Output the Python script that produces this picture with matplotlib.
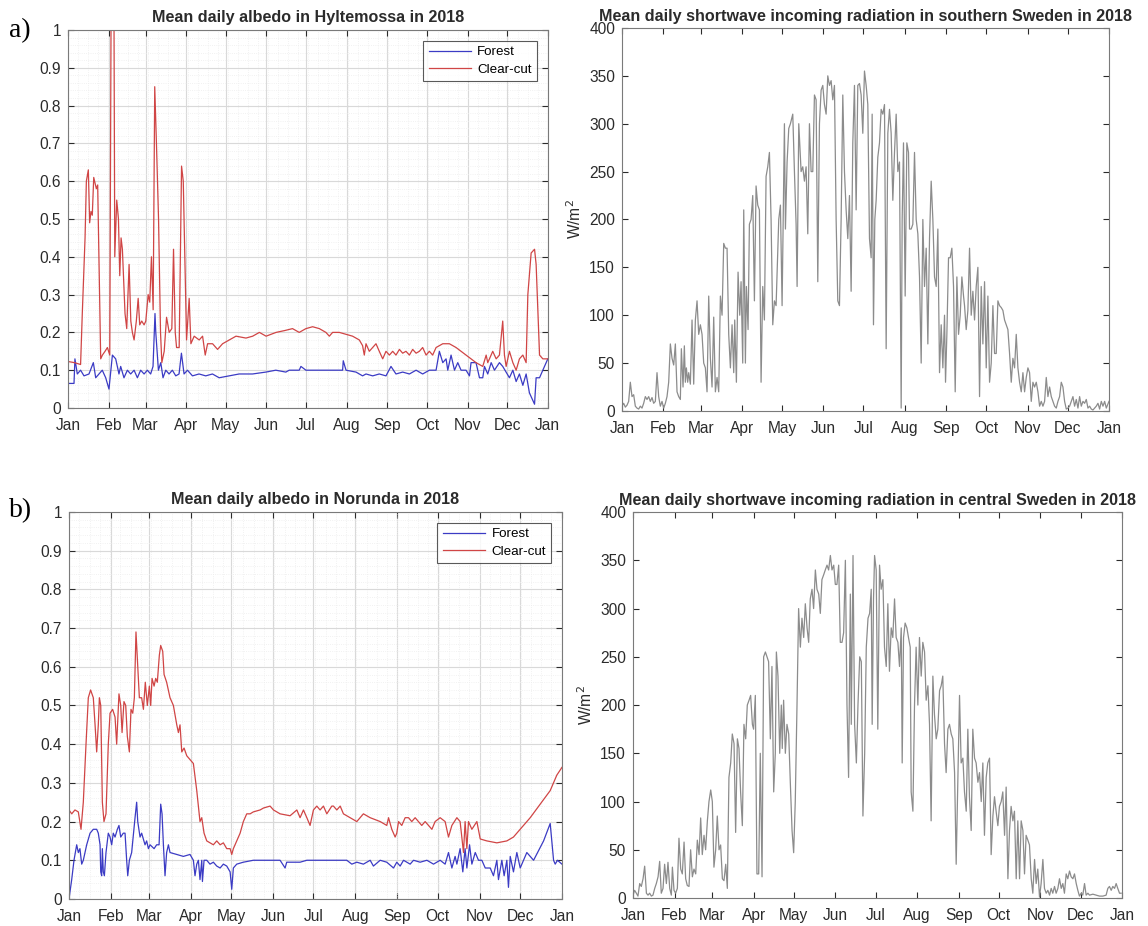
import matplotlib.pyplot as plt
from matplotlib.ticker import MultipleLocator, FixedLocator

plt.rcParams['font.family'] = ['Liberation Sans', 'DejaVu Sans']

# month starts (day of year) used as x ticks
month_days = [0, 31, 59, 90, 120, 151, 181, 212, 243, 273, 304, 334, 365]
month_labels = ['Jan', 'Feb', 'Mar', 'Apr', 'May', 'Jun', 'Jul', 'Aug',
                'Sep', 'Oct', 'Nov', 'Dec', 'Jan']

# ---- Hyltemossa albedo ----
hyl_cc_day = [0, 5, 9.6, 10.9, 13, 14, 15.5, 16.5, 17.5, 18.5, 19.6, 21.6, 22.6, 24.9, 26.2,
              28.2, 30, 31.8, 32.8, 35, 35.6, 37.1, 38.4, 39.4, 40.4, 41.4, 43.4, 44.7, 46.5,
              47.8, 49, 50.3, 52, 53.4, 54.6, 56.1, 57.9, 59.2, 61, 62.2, 63.5, 64.8, 66,
              67.3, 68.9, 70.4, 71.4, 73.2, 75, 77, 79, 80.3, 81.6, 82.6, 84.6, 86.4, 87.7,
              90.2, 92.2, 93.5, 96, 99.8, 102.4, 104.4, 106.2, 110, 113.8, 117.6, 122.7,
              127.8, 135.4, 140.5, 145.6, 150.7, 158.3, 165, 170.8, 175.9, 181, 186.1, 191.2,
              196.2, 198.8, 201.3, 206.4, 211.5, 216.5, 221.6, 224.1, 225.4, 226.7, 229.2,
              231.8, 234.3, 236.8, 239.4, 241.9, 244.5, 247, 249.5, 252.1, 254.6, 257.1,
              259.7, 262.2, 264.8, 267.3, 269.8, 272.4, 274.9, 277.4, 280, 285.1, 290.1,
              295.2, 302.8, 310.4, 315.5, 318.1, 319.3, 320.6, 323.1, 325.7, 328.2, 330.7,
              332, 333.3, 335.8, 338.4, 340.9, 343.4, 346, 348.5, 349.8, 352.3, 354.9, 356.1,
              358.7, 361.2, 365]
hyl_cc_val = [0.123, 0.12, 0.115, 0.25, 0.45, 0.6, 0.63, 0.49, 0.52, 0.51, 0.61, 0.58, 0.59,
              0.13, 0.14, 0.15, 0.16, 0.14, 1.05, 1.05, 0.4, 0.55, 0.5, 0.35, 0.45, 0.42, 0.25,
              0.21, 0.38, 0.23, 0.2, 0.18, 0.23, 0.29, 0.22, 0.23, 0.22, 0.23, 0.3, 0.28, 0.4,
              0.26, 0.85, 0.7, 0.5, 0.2, 0.12, 0.15, 0.24, 0.2, 0.21, 0.42, 0.2, 0.16, 0.16,
              0.64, 0.6, 0.18, 0.29, 0.17, 0.19, 0.18, 0.19, 0.14, 0.17, 0.17, 0.155, 0.17,
              0.18, 0.19, 0.185, 0.19, 0.2, 0.19, 0.2, 0.205, 0.21, 0.2, 0.21, 0.215, 0.21,
              0.2, 0.19, 0.2, 0.2, 0.195, 0.19, 0.18, 0.165, 0.14, 0.17, 0.15, 0.16, 0.17,
              0.15, 0.13, 0.15, 0.14, 0.15, 0.14, 0.155, 0.145, 0.15, 0.14, 0.155, 0.145,
              0.15, 0.16, 0.14, 0.15, 0.14, 0.16, 0.17, 0.17, 0.16, 0.14, 0.12, 0.11, 0.14,
              0.12, 0.13, 0.15, 0.13, 0.14, 0.23, 0.14, 0.11, 0.15, 0.12, 0.10, 0.13, 0.14,
              0.12, 0.3, 0.41, 0.42, 0.38, 0.14, 0.13, 0.13]

hyl_fo_day = [0, 4.6, 5.3, 7.1, 9.6, 12.2, 16, 19.3, 21.1, 23.6, 26.1, 28.7, 31.2, 33.8,
              36.3, 38.8, 40.1, 42.6, 45.2, 47.7, 50.3, 52.8, 55.3, 57.9, 60.4, 62.9, 64.7,
              66.2, 66.8, 68.8, 70.6, 72.3, 74.4, 76.9, 79.4, 82, 84.5, 86.3, 88.3, 90.9,
              94.7, 99.7, 104.8, 109.9, 115, 122.6, 130.2, 140.4, 150.5, 158.1, 165.7, 168.3,
              175.9, 177.2, 181, 186.1, 198.8, 208.9, 209.4, 211.5, 219.1, 224.1, 226.7,
              231.8, 236.8, 241.9, 245.7, 249.5, 254.6, 259.7, 264.8, 269.8, 274.9, 280,
              282.5, 285.1, 287.6, 288.9, 291.4, 294, 296.5, 299, 302.8, 305.4, 306.6, 310.4,
              313, 315.5, 316.8, 319.3, 321.9, 324.4, 328.2, 330.7, 335.8, 338.4, 340.9,
              343.4, 346, 348.5, 351, 353.6, 354.9, 356.1, 358.7, 361.2, 365]
hyl_fo_val = [0.065, 0.065, 0.13, 0.09, 0.1, 0.085, 0.09, 0.12, 0.08, 0.09, 0.1, 0.08, 0.05,
              0.14, 0.13, 0.09, 0.11, 0.08, 0.1, 0.09, 0.1, 0.08, 0.1, 0.09, 0.1, 0.09, 0.11,
              0.25, 0.2, 0.1, 0.12, 0.08, 0.1, 0.09, 0.1, 0.085, 0.09, 0.145, 0.09, 0.1,
              0.085, 0.09, 0.085, 0.09, 0.08, 0.085, 0.09, 0.09, 0.095, 0.1, 0.095, 0.1, 0.1,
              0.11, 0.1, 0.1, 0.1, 0.1, 0.125, 0.1, 0.095, 0.085, 0.09, 0.085, 0.09, 0.085,
              0.11, 0.09, 0.095, 0.09, 0.1, 0.09, 0.1, 0.1, 0.15, 0.12, 0.13, 0.1, 0.14, 0.1,
              0.12, 0.1, 0.1, 0.085, 0.12, 0.12, 0.08, 0.08, 0.11, 0.09, 0.12, 0.1, 0.12,
              0.11, 0.08, 0.1, 0.07, 0.09, 0.06, 0.09, 0.04, 0.02, 0.01, 0.08, 0.08, 0.1, 0.13]

# ---- Norunda albedo ----
nor_cc_day = [0, 2, 4.4, 6.9, 8.9, 10.6, 12.6, 14.3, 16, 18, 19.3, 20.5, 21.7, 22.5, 23.5,
              24.7, 25.9, 27.4, 29.1, 30.4, 32.3, 34.1, 35.3, 37, 38.3, 39.3, 40.7, 42, 43.2,
              44.7, 45.9, 47.2, 48.4, 49.6, 50.9, 52.1, 53.8, 55.1, 56.5, 58, 59.5, 60.5,
              61.5, 63, 64.2, 65.4, 66.9, 67.9, 69.4, 70.4, 72.3, 74.8, 77.3, 79.8, 81, 82.2,
              83.5, 85.2, 87.2, 89.6, 92.1, 94.6, 97, 98.3, 100, 102, 104.4, 106.9, 109.4,
              111.9, 114.3, 116.8, 119.3, 120.5, 121.7, 124.2, 126.7, 129.1, 131.6, 134.1,
              136.5, 141.5, 144, 148.9, 151.4, 156.3, 163.7, 168.7, 171.1, 173.6, 176.1,
              178.5, 181, 183.5, 185.9, 188.4, 190.9, 194.6, 195.8, 198.3, 200.8, 203.2,
              208.2, 213.1, 218, 223, 230.4, 235.3, 236.6, 239, 241.5, 242.7, 244, 246.4,
              248.9, 251.4, 253.8, 256.3, 258.8, 261.2, 263.7, 266.2, 268.7, 271.1, 274.8,
              278.5, 281, 283.5, 287.2, 289.6, 292.1, 293.3, 294.6, 295.8, 298.3, 302, 304.5,
              309.4, 316.8, 324.2, 329.1, 334.1, 341.5, 348.9, 356.3, 361.2, 365]
nor_cc_val = [0.23, 0.22, 0.23, 0.225, 0.18, 0.25, 0.4, 0.52, 0.54, 0.52, 0.45, 0.38, 0.45,
              0.52, 0.5, 0.25, 0.2, 0.22, 0.4, 0.48, 0.49, 0.47, 0.4, 0.53, 0.5, 0.43, 0.51,
              0.5, 0.42, 0.38, 0.49, 0.48, 0.52, 0.69, 0.6, 0.52, 0.52, 0.49, 0.56, 0.5, 0.55,
              0.5, 0.57, 0.55, 0.57, 0.56, 0.63, 0.655, 0.64, 0.58, 0.56, 0.52, 0.5, 0.45,
              0.43, 0.45, 0.38, 0.39, 0.37, 0.36, 0.35, 0.28, 0.2, 0.21, 0.17, 0.15, 0.145,
              0.14, 0.15, 0.14, 0.145, 0.13, 0.13, 0.115, 0.13, 0.15, 0.17, 0.2, 0.22, 0.22,
              0.225, 0.23, 0.235, 0.24, 0.23, 0.22, 0.215, 0.23, 0.21, 0.23, 0.21, 0.19,
              0.23, 0.24, 0.23, 0.24, 0.22, 0.24, 0.24, 0.23, 0.24, 0.22, 0.21, 0.2, 0.22,
              0.21, 0.2, 0.19, 0.21, 0.18, 0.16, 0.17, 0.2, 0.19, 0.21, 0.21, 0.2, 0.21, 0.2,
              0.19, 0.2, 0.19, 0.18, 0.2, 0.21, 0.2, 0.16, 0.19, 0.21, 0.2, 0.12, 0.2, 0.13,
              0.2, 0.18, 0.2, 0.155, 0.15, 0.145, 0.15, 0.16, 0.18, 0.21, 0.245, 0.28, 0.32,
              0.34]

nor_fo_day = [0, 2, 3.7, 5.7, 6.9, 8.1, 9.4, 10.6, 13.1, 15.6, 18, 20.5, 21.7, 23, 23.5,
              24.2, 24.7, 25.4, 26.2, 27.4, 29.1, 30.4, 31.6, 32.8, 34.1, 35.8, 37, 38.3,
              40.2, 41.5, 42.7, 43.5, 44.7, 46.4, 48.9, 50.1, 50.9, 52.6, 53.8, 56.3, 57.5,
              58.8, 60, 63, 64.9, 66.7, 67.9, 68.9, 69.9, 71.1, 72.3, 73.6, 74.8, 79.8, 84.7,
              89.6, 92.1, 93.3, 94.6, 95.8, 97, 98.3, 98.8, 100, 102, 104.4, 106.9, 109.4,
              111.9, 114.3, 116.8, 119.3, 120.5, 121.7, 124.2, 129.1, 136.5, 146.4, 156.3,
              160, 161.2, 171.1, 176.1, 181, 193.3, 200.8, 205.7, 209.4, 213.1, 218, 223,
              225.4, 230.4, 235.3, 240.3, 242.7, 245.2, 247.7, 252.6, 255.1, 260, 265, 269.9,
              274.8, 278.5, 281, 283.5, 285.9, 287.2, 289.6, 291.6, 293.3, 294.6, 296.6,
              298.3, 300.8, 303.2, 305.7, 308.2, 311.9, 314.3, 316.8, 318, 320.5, 322.2,
              324.2, 325.4, 326.7, 329.1, 331.6, 334.1, 339, 344, 351.4, 356.3, 358.8, 360,
              361.7, 365]
nor_fo_val = [0.0, 0.05, 0.1, 0.14, 0.12, 0.13, 0.09, 0.1, 0.14, 0.17, 0.18, 0.18, 0.17,
              0.14, 0.07, 0.06, 0.13, 0.07, 0.06, 0.12, 0.17, 0.16, 0.14, 0.17, 0.16, 0.18,
              0.19, 0.16, 0.17, 0.17, 0.1, 0.06, 0.1, 0.12, 0.21, 0.25, 0.2, 0.16, 0.17, 0.14,
              0.15, 0.13, 0.14, 0.13, 0.14, 0.14, 0.245, 0.22, 0.14, 0.06, 0.12, 0.14, 0.12,
              0.115, 0.11, 0.115, 0.1, 0.06, 0.09, 0.1, 0.05, 0.1, 0.045, 0.1, 0.1, 0.09,
              0.095, 0.085, 0.08, 0.09, 0.085, 0.07, 0.025, 0.08, 0.09, 0.095, 0.1, 0.1, 0.1,
              0.08, 0.095, 0.095, 0.1, 0.1, 0.1, 0.1, 0.1, 0.09, 0.095, 0.09, 0.1, 0.085,
              0.1, 0.095, 0.08, 0.095, 0.085, 0.1, 0.09, 0.1, 0.095, 0.1, 0.09, 0.1, 0.09,
              0.12, 0.08, 0.11, 0.09, 0.13, 0.07, 0.13, 0.08, 0.14, 0.09, 0.12, 0.1, 0.1,
              0.08, 0.08, 0.06, 0.1, 0.05, 0.1, 0.06, 0.1, 0.03, 0.11, 0.07, 0.12, 0.08, 0.12,
              0.1, 0.15, 0.195, 0.1, 0.09, 0.1, 0.09]

# ---- shortwave incoming radiation, southern Sweden (W/m2) ----
south_day = [0, 1.25, 2.5, 3.75, 5, 6.25, 7.5, 8.75, 10, 11.25, 12.5, 13.75, 15, 16.25, 17.5,
             18.75, 20, 21.25, 22.5, 23.75, 25, 26.25, 27.5, 28.75, 30, 31.25, 32.5, 33.75,
             35, 36.25, 37.5, 38.75, 40, 41.25, 42.5, 43.75, 44.5, 45.75, 46.75, 47.5, 48.25,
             49.25, 50, 51.25, 52.5, 53.75, 55, 56.25, 57.5, 58.75, 60, 61.25, 62.5, 63.75,
             65, 66.25, 67.5, 68.75, 70, 71.25, 72.5, 73.75, 75, 76.25, 77.5, 78.75, 80,
             81.25, 82.5, 83.75, 84.5, 85.75, 87, 88.25, 89.25, 90.5, 91.25, 92.5, 93.25,
             94.5, 95.5, 96.75, 98, 99.25, 100.5, 101.75, 103, 104.25, 105.5, 106.75, 108,
             109.25, 110.5, 111.75, 113, 114.25, 115.5, 117.5, 118.75, 120, 121.75, 122.5,
             123.75, 125, 126.25, 128, 129.25, 130.5, 131.25, 132.5, 134.25, 135.5, 136.75,
             138, 139.25, 140.5, 141.75, 143, 144.25, 145.5, 146.75, 148, 149.25, 150.5,
             151.75, 153, 154.25, 155.5, 156.75, 158, 159.25, 160.5, 161.75, 163, 164.25,
             165.5, 166.75, 168, 169.25, 170.5, 171.75, 173, 174.25, 175.5, 176.75, 178,
             179.25, 180.5, 181.75, 183, 184.25, 185.5, 186.75, 187.5, 188.5, 189.5, 190.5,
             191.75, 193, 194.25, 195.5, 196.75, 198, 199.25, 200.5, 201.75, 203, 204.25,
             205.5, 206.75, 208, 209.25, 210, 211, 212.25, 213.5, 214.75, 215.5, 216.75, 218,
             219.25, 220.5, 221.75, 223, 224.25, 225.5, 226.75, 228, 229.25, 230.5, 231.75,
             233, 234.25, 235.5, 236.75, 238, 239.25, 240.5, 241.75, 242.5, 243.5, 244.75,
             246, 247.25, 248.5, 249.75, 251, 252.25, 253.5, 254.75, 256, 256.75, 258, 259.25,
             260.5, 261.75, 263, 264.25, 265.5, 266.75, 268, 269.25, 270.5, 271.75, 273,
             274.25, 275.5, 276.75, 278, 279.25, 280.5, 281.75, 283, 284.25, 285.5, 286.75,
             288, 289.25, 290.5, 291.75, 293, 294.25, 295.5, 296.75, 298, 299.25, 300.5,
             301.75, 303, 304.25, 305.5, 306.75, 308, 309.25, 310.5, 311.75, 313, 314.25,
             315.5, 316.75, 318, 319.25, 320.5, 321.75, 323, 324.25, 325.5, 326.75, 328,
             329.25, 330.5, 331.75, 333, 334.25, 335.5, 336.75, 338, 339.25, 340.5, 341.75,
             343, 344.25, 345.5, 346.75, 348, 349.25, 350.5, 351.75, 353, 355.5, 356.75, 358,
             359.25, 360.5, 361.75, 363, 365]
south_val = [5, 8, 4, 6, 10, 30, 15, 17, 5, 3, 2, 5, 3, 8, 15, 12, 15, 10, 14, 8, 10, 40, 15,
             5, 10, 3, 8, 15, 30, 70, 55, 48, 70, 20, 15, 12, 65, 25, 68, 30, 45, 30, 40, 28,
             95, 28, 95, 115, 80, 90, 80, 50, 45, 20, 120, 55, 25, 98, 20, 35, 20, 120, 100,
             175, 170, 170, 80, 45, 90, 40, 95, 30, 145, 100, 135, 50, 210, 50, 130, 85, 195,
             200, 225, 115, 235, 215, 210, 30, 130, 95, 245, 255, 270, 200, 90, 115, 110, 200,
             215, 110, 300, 190, 260, 295, 300, 310, 250, 195, 130, 300, 250, 255, 240, 255,
             185, 300, 250, 250, 330, 325, 135, 300, 335, 340, 320, 310, 350, 340, 345, 325,
             340, 200, 115, 110, 200, 330, 250, 210, 180, 225, 125, 280, 340, 210, 340, 342,
             330, 290, 355, 340, 320, 180, 160, 310, 90, 200, 220, 265, 280, 315, 310, 320, 65,
             290, 315, 290, 220, 270, 310, 250, 260, 3, 200, 280, 120, 280, 270, 190, 190, 195,
             270, 200, 185, 140, 50, 200, 130, 170, 70, 180, 240, 200, 140, 130, 190, 40, 90,
             45, 100, 30, 80, 160, 160, 170, 130, 20, 140, 80, 100, 140, 120, 110, 85, 105,
             170, 100, 125, 95, 130, 150, 15, 130, 70, 135, 45, 120, 30, 50, 110, 60, 60, 115,
             110, 108, 105, 95, 90, 85, 60, 30, 55, 45, 80, 45, 30, 20, 40, 20, 35, 45, 40,
             10, 30, 25, 30, 20, 5, 10, 5, 10, 35, 15, 25, 15, 10, 5, 3, 10, 15, 30, 25, 10,
             2, 3, 5, 10, 15, 5, 12, 3, 15, 5, 10, 8, 12, 3, 5, 2, 1, 5, 8, 2, 10, 5, 10, 3,
             10]

# ---- shortwave incoming radiation, central Sweden (W/m2) ----
central_day = [0, 1.2, 2.5, 3.7, 5, 6.2, 7.5, 8.7, 10, 11.2, 12.4, 13.7, 14.9, 16.2, 17.4,
               18.7, 19.9, 21.1, 22.4, 23.6, 24.9, 26.1, 27.4, 28.6, 29.4, 30.6, 31.8, 33.1,
               34.3, 35.6, 36.8, 38.1, 39.3, 40.5, 41.8, 43, 44.3, 45.5, 46.8, 48, 49.3, 50.5,
               51.7, 53, 54.2, 55.5, 56.7, 58, 59.2, 60.4, 61.7, 62.9, 64.2, 65.4, 66.7, 67.9,
               69.2, 70.4, 71.6, 72.9, 74.1, 75.4, 76.6, 77.9, 79.1, 80.3, 81.6, 82.8, 84.1,
               85.3, 86.6, 87.8, 89.1, 90, 91.3, 92.5, 93.8, 95, 96.3, 97.5, 98.8, 100, 101.2,
               102.5, 103.7, 105, 106.2, 107, 108.2, 109.5, 110.7, 111.4, 112.4, 113.7, 114.9,
               116.2, 117.4, 118.7, 119.9, 121.1, 122.4, 123.6, 124.9, 126.1, 127.4, 128.6,
               129.9, 131.1, 132.3, 133.6, 134.8, 136.1, 137.3, 138.6, 139.8, 141, 142.3,
               143.5, 144.8, 146, 147.3, 148.5, 149.8, 151, 152.2, 153.5, 154.7, 156, 157.2,
               158.5, 159.7, 160.9, 162.2, 162.9, 164.2, 165.4, 166.7, 167.9, 169.2, 170.4,
               171.6, 172.9, 174.1, 175.4, 176.6, 177.8, 178.5, 179.5, 180.3, 181.5, 182.7,
               184, 185.2, 186.5, 187.7, 189, 190.2, 191.4, 192.7, 193.9, 195.2, 196.4, 197.7,
               198.9, 200.2, 200.9, 201.9, 203.1, 204.4, 205.6, 206.9, 207.6, 208.9, 210.1,
               211.3, 212.6, 213.8, 215.1, 216.3, 217.6, 218.8, 220.1, 221.3, 222.5, 223.8,
               225, 226.3, 227.5, 228.8, 230, 231.2, 232.5, 233.7, 235, 236.2, 237.5, 238.7,
               240, 241.2, 242.4, 243.7, 244.9, 246.2, 247.4, 248.7, 249.9, 251.1, 252.4,
               253.6, 254.9, 256.1, 257.4, 258.6, 259.9, 261.1, 262.3, 263.6, 264.8, 266.1,
               267.3, 268.6, 269.8, 271, 272.3, 273.5, 274.8, 276, 277.3, 278.5, 279.8, 281,
               282.2, 283.5, 284.7, 286, 287.2, 288.5, 289.7, 291, 292.2, 293.4, 294.7, 295.9,
               297.2, 298.4, 299.7, 300.9, 302.1, 303.4, 304.6, 305.9, 307.1, 308.4, 309.6,
               310.9, 312.1, 313.3, 314.6, 315.8, 317.1, 318.3, 319.6, 320.8, 322, 323.3,
               324.5, 325.8, 327, 328.3, 329.5, 330.8, 332, 333.2, 334.5, 335.7, 337, 338.2,
               339.5, 340.7, 343.2, 345.7, 348.2, 350.7, 353.1, 354.4, 355.6, 356.9, 358.1,
               359.4, 360.6, 361.8, 363.1, 364.3]
central_val = [3, 8, 5, 2, 15, 12, 20, 33, 5, 3, 5, 2, 3, 10, 15, 22, 38, 5, 10, 35, 15, 37,
               10, 3, 32, 8, 5, 10, 62, 30, 25, 58, 20, 13, 12, 50, 22, 30, 25, 60, 45, 83,
               45, 65, 50, 80, 100, 112, 100, 32, 50, 85, 50, 55, 20, 18, 35, 10, 125, 140,
               170, 160, 68, 165, 155, 110, 75, 180, 165, 200, 205, 210, 180, 175, 210, 25, 25,
               150, 22, 250, 255, 250, 245, 165, 240, 110, 150, 255, 230, 150, 200, 155, 205,
               150, 180, 170, 120, 70, 47, 100, 200, 300, 260, 290, 270, 305, 280, 265, 310,
               320, 300, 340, 320, 315, 295, 330, 335, 340, 345, 340, 355, 340, 345, 325, 325,
               345, 265, 265, 275, 350, 200, 125, 315, 180, 355, 180, 140, 200, 250, 245, 85,
               150, 260, 290, 295, 320, 180, 310, 355, 340, 175, 345, 320, 330, 260, 240, 305,
               235, 280, 270, 310, 270, 265, 240, 280, 140, 270, 285, 280, 270, 260, 110, 90,
               200, 260, 200, 270, 230, 265, 255, 205, 220, 180, 80, 230, 190, 165, 175, 215,
               220, 230, 160, 130, 175, 180, 170, 165, 130, 35, 120, 210, 140, 145, 110, 90,
               175, 105, 70, 175, 145, 140, 120, 130, 100, 140, 65, 125, 140, 145, 45, 85, 105,
               90, 75, 95, 100, 110, 65, 115, 20, 70, 95, 80, 90, 20, 80, 20, 80, 70, 25, 65,
               60, 55, 20, 5, 40, 15, 30, 1, 15, 40, 10, 5, 8, 3, 10, 5, 12, 5, 10, 20, 10, 15,
               5, 25, 20, 28, 22, 20, 25, 15, 8, 2, 5, 3, 15, 3, 5, 3, 4, 3, 2, 2, 3, 10, 12, 8,
               12, 10, 15, 10, 5, 5]

text_col = '#2b2b2b'
blue = '#3b3bc4'
red = '#d04545'
grey = '#8c8c8c'


def style_axes(ax, ymax, ystep):
    ax.set_xlim(0, 365)
    ax.set_ylim(0, ymax)
    ax.xaxis.set_major_locator(FixedLocator(month_days))
    ax.set_xticklabels(month_labels)
    ax.yaxis.set_major_locator(MultipleLocator(ystep))
    ax.tick_params(direction='in', top=True, right=True, length=4, width=0.8,
                   colors=text_col, labelsize=11.2)
    ax.tick_params(axis='x', pad=7)
    ax.tick_params(axis='y', pad=5)
    for s in ax.spines.values():
        s.set_color('#7a7a7a')
        s.set_linewidth(0.8)


def albedo_panel(ax, title, fo_day, fo_val, cc_day, cc_val):
    ax.plot(fo_day, fo_val, color=blue, lw=0.9, label='Forest')
    ax.plot(cc_day, cc_val, color=red, lw=0.9, label='Clear-cut')
    style_axes(ax, 1, 0.1)
    ax.set_yticks([0, 0.1, 0.2, 0.3, 0.4, 0.5, 0.6, 0.7, 0.8, 0.9, 1])
    ax.set_yticklabels(['0', '0.1', '0.2', '0.3', '0.4', '0.5', '0.6', '0.7', '0.8',
                        '0.9', '1'])
    ax.yaxis.set_minor_locator(MultipleLocator(0.02))
    ax.xaxis.set_minor_locator(MultipleLocator(7.6))
    ax.tick_params(which='minor', length=0)
    ax.grid(True, which='major', color='#d9d9d9', lw=0.8)
    ax.grid(True, which='minor', color='#ededed', lw=0.6, ls=':')
    ax.set_axisbelow(True)
    ax.set_title(title, fontsize=11.6, fontweight='bold', color=text_col, pad=6)
    leg = ax.legend(loc='upper right', fontsize=9.6, frameon=True, fancybox=False,
                    edgecolor='#303030', handlelength=3.2, borderpad=0.4,
                    labelspacing=0.4, borderaxespad=0.8, handletextpad=0.45)
    leg.get_frame().set_linewidth(0.8)


def radiation_panel(ax, title, day, val):
    ax.plot(day, val, color=grey, lw=0.9)
    style_axes(ax, 400, 50)
    ax.set_ylabel('W/m$^2$', fontsize=11.2, color=text_col, labelpad=4)
    ax.set_title(title, fontsize=11.6, fontweight='bold', color=text_col, pad=5)


fig = plt.figure(figsize=(11.48, 9.26), dpi=100)

ax1 = fig.add_axes([0.0592, 0.5594, 0.418, 0.4082])
ax2 = fig.add_axes([0.5418, 0.5562, 0.4242, 0.4136])
ax3 = fig.add_axes([0.0601, 0.0292, 0.4294, 0.4179])
ax4 = fig.add_axes([0.5514, 0.0302, 0.426, 0.4168])

albedo_panel(ax1, 'Mean daily albedo in Hyltemossa in 2018',
             hyl_fo_day, hyl_fo_val, hyl_cc_day, hyl_cc_val)
radiation_panel(ax2, 'Mean daily shortwave incoming radiation in southern Sweden in 2018',
                south_day, south_val)
albedo_panel(ax3, 'Mean daily albedo in Norunda in 2018',
             nor_fo_day, nor_fo_val, nor_cc_day, nor_cc_val)
radiation_panel(ax4, 'Mean daily shortwave incoming radiation in central Sweden in 2018',
                central_day, central_val)

fig.text(0.008, 0.967, 'a)', family='Liberation Serif', fontsize=20, va='center')
fig.text(0.008, 0.449, 'b)', family='Liberation Serif', fontsize=20, va='center')

fig.savefig('out.png', dpi=100)
